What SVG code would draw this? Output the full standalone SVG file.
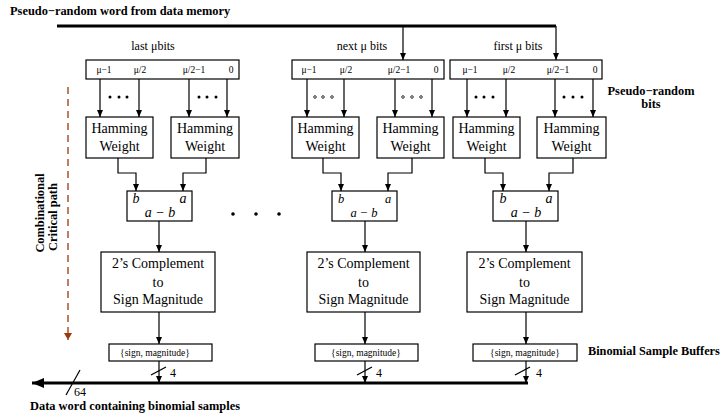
<svg xmlns="http://www.w3.org/2000/svg" width="720" height="417" viewBox="0 0 720 417">
<defs>
<marker id="ah" markerUnits="userSpaceOnUse" markerWidth="7" markerHeight="6" refX="7" refY="3" orient="auto"><path d="M0,0 L7,3 L0,6 z" fill="#000"/></marker>
<marker id="ahb" markerUnits="userSpaceOnUse" markerWidth="12" markerHeight="10" refX="12" refY="5" orient="auto"><path d="M0,0 L12,5 L0,10 z" fill="#000"/></marker>
<marker id="ahr" markerUnits="userSpaceOnUse" markerWidth="7" markerHeight="8" refX="7" refY="4" orient="auto"><path d="M0,0 L7,4 L0,8 z" fill="#9a3a0c"/></marker>
</defs>
<style>
.box{fill:#fff;stroke:#000;stroke-width:1.2}
.ln{fill:none;stroke:#000;stroke-width:1.2}
.arr{fill:none;stroke:#000;stroke-width:1.2;marker-end:url(#ah)}
.bus{fill:none;stroke:#000;stroke-width:3}
.t{font-family:"Liberation Serif",serif;fill:#000}
.b{font-family:"Liberation Serif",serif;font-weight:bold;fill:#000}
.i{font-family:"Liberation Serif",serif;font-style:italic;fill:#000}
.hw{font-size:14px;text-anchor:middle}
.rl{font-size:9.5px;text-anchor:middle}
.sm{font-size:9.5px;text-anchor:middle}
.dot{fill:#000}
.hd{fill:#fff;stroke:#000;stroke-width:0.8}
</style>

<text class="b" x="10" y="15" font-size="12.4">Pseudo−random word from data memory</text>
<text class="b" x="651" y="95" font-size="12.4" text-anchor="middle">Pseudo−random</text>
<text class="b" x="651" y="108" font-size="12.4" text-anchor="middle">bits</text>
<text class="b" x="588" y="355" font-size="12.3">Binomial Sample Buffers</text>
<text class="b" x="30" y="410" font-size="12.4">Data word containing binomial samples</text>
<g transform="translate(44,213) rotate(-90)"><text class="b" x="0" y="0" font-size="12.4" text-anchor="middle">Combinational</text></g>
<g transform="translate(57,217) rotate(-90)"><text class="b" x="0" y="0" font-size="12.4" text-anchor="middle">Critical path</text></g>

<g id="connectors">
<line class="bus" x1="57" y1="26" x2="556" y2="26"/>
<line class="arr" x1="403" y1="26" x2="403" y2="60"/>
<line class="arr" x1="556" y1="26" x2="556" y2="60"/>
<line x1="68" y1="87" x2="68" y2="340" stroke="#9a3a0c" stroke-width="1.3" stroke-dasharray="7,5" marker-end="url(#ahr)"/>
<line class="arr" x1="100" y1="79" x2="100" y2="117"/>
<line class="arr" x1="139" y1="79" x2="139" y2="117"/>
<line class="arr" x1="189" y1="79" x2="189" y2="117"/>
<line class="arr" x1="227" y1="79" x2="227" y2="117"/>
<line class="arr" x1="307" y1="79" x2="307" y2="117"/>
<line class="arr" x1="344" y1="79" x2="344" y2="117"/>
<line class="arr" x1="395" y1="79" x2="395" y2="117"/>
<line class="arr" x1="432" y1="79" x2="432" y2="117"/>
<line class="arr" x1="467" y1="79" x2="467" y2="117"/>
<line class="arr" x1="506" y1="79" x2="506" y2="117"/>
<line class="arr" x1="555" y1="79" x2="555" y2="117"/>
<line class="arr" x1="593" y1="79" x2="593" y2="117"/>
<polyline class="arr" points="118,158 118,173 136,173 136,191"/>
<polyline class="arr" points="206,158 206,173 183,173 183,191"/>
<polyline class="arr" points="323,158 323,173 341,173 341,191"/>
<polyline class="arr" points="412,158 412,173 388,173 388,191"/>
<polyline class="arr" points="485,158 485,173 503,173 503,191"/>
<polyline class="arr" points="573,158 573,173 549,173 549,191"/>
<line class="arr" x1="159" y1="221" x2="159" y2="252"/>
<line class="arr" x1="365" y1="221" x2="365" y2="252"/>
<line class="arr" x1="526" y1="221" x2="526" y2="252"/>
<line class="arr" x1="159" y1="312" x2="159" y2="344"/>
<line class="arr" x1="365" y1="312" x2="365" y2="344"/>
<line class="arr" x1="526" y1="312" x2="526" y2="344"/>
<line class="arr" x1="159" y1="361" x2="159" y2="383"/>
<line class="arr" x1="365" y1="361" x2="365" y2="383"/>
<line class="arr" x1="526" y1="361" x2="526" y2="383"/>
<line class="ln" x1="151" y1="375" x2="166" y2="367"/>
<line class="ln" x1="357" y1="375" x2="372" y2="367"/>
<line class="ln" x1="515" y1="375" x2="530" y2="367"/>
<text class="t" x="170" y="377" font-size="12">4</text>
<text class="t" x="376" y="377" font-size="12">4</text>
<text class="t" x="536" y="377" font-size="12">4</text>
<line class="bus" x1="528" y1="383" x2="32" y2="383" marker-end="url(#ahb)"/>
<line class="ln" x1="66" y1="395" x2="80" y2="370"/>
<text class="t" x="74" y="396" font-size="12">64</text>
<circle class="dot" cx="233" cy="214" r="1.8"/>
<circle class="dot" cx="256" cy="214" r="1.8"/>
<circle class="dot" cx="279" cy="214" r="1.8"/>
</g>

<g id="reg-last">
<text class="t" x="153" y="50" font-size="12" text-anchor="middle">last  μbits</text>
<rect class="box" x="86" y="60" width="153" height="19"/>
<text class="t rl" x="104" y="73">μ−1</text>
<text class="t rl" x="140" y="73">μ/2</text>
<text class="t rl" x="194" y="73">μ/2−1</text>
<text class="t rl" x="231" y="73">0</text>
<circle class="dot" cx="110" cy="97" r="1.5"/><circle class="dot" cx="119" cy="97" r="1.5"/><circle class="dot" cx="127" cy="97" r="1.5"/>
<circle class="dot" cx="199" cy="97" r="1.5"/><circle class="dot" cx="207" cy="97" r="1.5"/><circle class="dot" cx="216" cy="97" r="1.5"/>
</g>
<g id="hw-last-1"><rect class="box" x="86" y="117" width="67" height="41"/><text class="t hw" x="119.5" y="133">Hamming</text><text class="t hw" x="119.5" y="151">Weight</text></g>
<g id="hw-last-2"><rect class="box" x="171" y="117" width="68" height="41"/><text class="t hw" x="205" y="133">Hamming</text><text class="t hw" x="205" y="151">Weight</text></g>
<g id="sub-last"><rect class="box" x="127" y="191" width="65" height="30"/><text class="i" x="136" y="203" font-size="14" text-anchor="middle">b</text><text class="i" x="183" y="203" font-size="14" text-anchor="middle">a</text><text class="i" x="160" y="217" font-size="14" text-anchor="middle">a − b</text></g>
<g id="conv-last"><rect class="box" x="101" y="252" width="114" height="60"/><text class="t hw" x="158" y="268">2’s Complement</text><text class="t hw" x="158" y="287">to</text><text class="t hw" x="158" y="304">Sign Magnitude</text></g>
<g id="buf-last"><rect class="box" x="109" y="344" width="103" height="17"/><text class="t sm" x="155" y="356">{sign, magnitude}</text></g>

<g id="reg-next">
<text class="t" x="362" y="50" font-size="12" text-anchor="middle">next  μ bits</text>
<rect class="box" x="292" y="60" width="152" height="19"/>
<text class="t rl" x="309" y="73">μ−1</text>
<text class="t rl" x="346" y="73">μ/2</text>
<text class="t rl" x="399" y="73">μ/2−1</text>
<text class="t rl" x="436" y="73">0</text>
<circle class="hd" cx="315" cy="97" r="1.3"/><circle class="hd" cx="323" cy="97" r="1.3"/><circle class="hd" cx="332" cy="97" r="1.3"/>
<circle class="hd" cx="403" cy="97" r="1.3"/><circle class="hd" cx="412" cy="97" r="1.3"/><circle class="hd" cx="421" cy="97" r="1.3"/>
</g>
<g id="hw-next-1"><rect class="box" x="292" y="117" width="67" height="41"/><text class="t hw" x="325.5" y="133">Hamming</text><text class="t hw" x="325.5" y="151">Weight</text></g>
<g id="hw-next-2"><rect class="box" x="377" y="117" width="67" height="41"/><text class="t hw" x="410.5" y="133">Hamming</text><text class="t hw" x="410.5" y="151">Weight</text></g>
<g id="sub-next"><rect class="box" x="332" y="191" width="65" height="30"/><text class="i" x="341" y="203" font-size="12.5" text-anchor="middle">b</text><text class="i" x="388" y="203" font-size="12.5" text-anchor="middle">a</text><text class="i" x="364" y="217" font-size="12.5" text-anchor="middle">a − b</text></g>
<g id="conv-next"><rect class="box" x="307" y="252" width="113" height="60"/><text class="t hw" x="363.5" y="268">2’s Complement</text><text class="t hw" x="363.5" y="287">to</text><text class="t hw" x="363.5" y="304">Sign Magnitude</text></g>
<g id="buf-next"><rect class="box" x="315" y="344" width="103" height="17"/><text class="t sm" x="366" y="356">{sign, magnitude}</text></g>

<g id="reg-first">
<text class="t" x="518" y="50" font-size="12" text-anchor="middle">first  μ bits</text>
<rect class="box" x="450" y="60" width="152" height="19"/>
<text class="t rl" x="470" y="73">μ−1</text>
<text class="t rl" x="509" y="73">μ/2</text>
<text class="t rl" x="558" y="73">μ/2−1</text>
<text class="t rl" x="595" y="73">0</text>
<circle class="dot" cx="476" cy="97" r="1.5"/><circle class="dot" cx="484" cy="97" r="1.5"/><circle class="dot" cx="493" cy="97" r="1.5"/>
<circle class="dot" cx="564" cy="97" r="1.5"/><circle class="dot" cx="573" cy="97" r="1.5"/><circle class="dot" cx="582" cy="97" r="1.5"/>
</g>
<g id="hw-first-1"><rect class="box" x="453" y="117" width="67" height="41"/><text class="t hw" x="486.5" y="133">Hamming</text><text class="t hw" x="486.5" y="151">Weight</text></g>
<g id="hw-first-2"><rect class="box" x="537" y="117" width="69" height="41"/><text class="t hw" x="571.5" y="133">Hamming</text><text class="t hw" x="571.5" y="151">Weight</text></g>
<g id="sub-first"><rect class="box" x="493" y="191" width="65" height="30"/><text class="i" x="503" y="203" font-size="14" text-anchor="middle">b</text><text class="i" x="549" y="203" font-size="14" text-anchor="middle">a</text><text class="i" x="526" y="217" font-size="14" text-anchor="middle">a − b</text></g>
<g id="conv-first"><rect class="box" x="467" y="252" width="115" height="60"/><text class="t hw" x="524.5" y="268">2’s Complement</text><text class="t hw" x="524.5" y="287">to</text><text class="t hw" x="524.5" y="304">Sign Magnitude</text></g>
<g id="buf-first"><rect class="box" x="473" y="344" width="104" height="17"/><text class="t sm" x="525" y="356">{sign, magnitude}</text></g>
</svg>
